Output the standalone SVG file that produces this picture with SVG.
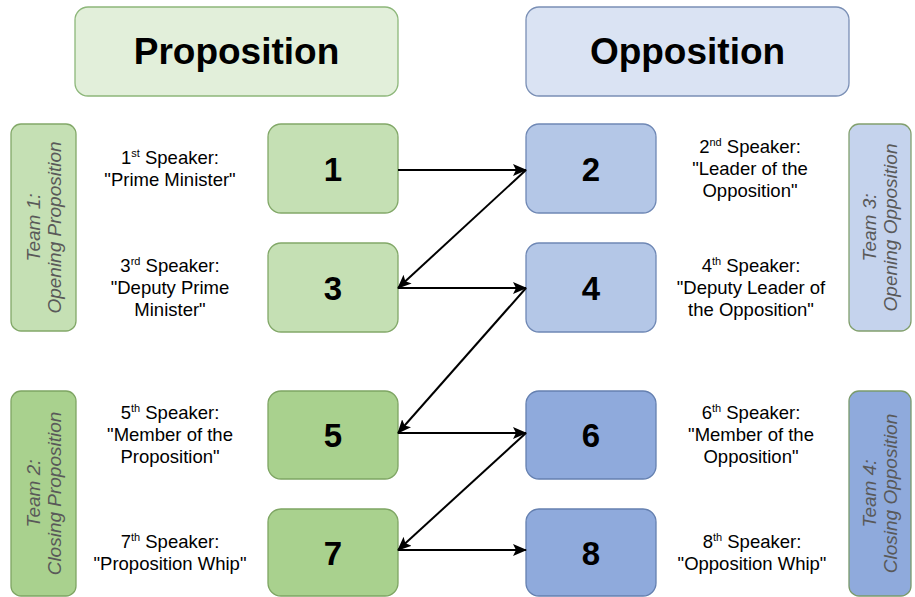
<svg xmlns="http://www.w3.org/2000/svg" width="915" height="597" viewBox="0 0 915 597">
<defs>
<style>
.hdr{font-family:"Liberation Sans",Arial,sans-serif;font-weight:bold;font-size:37px;fill:#000;text-anchor:middle}
.num{font-family:"Liberation Sans",Arial,sans-serif;font-weight:bold;font-size:33px;fill:#000;text-anchor:middle}
.lbl{font-family:"Liberation Sans",Arial,sans-serif;font-size:18.5px;fill:#000;text-anchor:middle}
.team{font-family:"Liberation Sans",Arial,sans-serif;font-style:italic;font-size:19px;fill:#595959;text-anchor:middle}
.sup{font-size:11px}
.g1{fill:#c5e0b4;stroke:#82a868;stroke-width:1.3}
.g2{fill:#a9d18e;stroke:#7ea563;stroke-width:1.3}
.b1{fill:#b4c7e7;stroke:#6f88b5;stroke-width:1.3}
.b2{fill:#8faadc;stroke:#6580b0;stroke-width:1.3}
.conn{stroke:#000;stroke-width:2;fill:none;marker-end:url(#arr)}
</style>
<marker id="arr" markerUnits="userSpaceOnUse" markerWidth="14" markerHeight="12" refX="13" refY="6" orient="auto">
<path d="M0,0 L14,6 L0,12 L3,6 z" fill="#000"/>
</marker>
</defs>
<rect width="915" height="597" fill="#fff"/>

<g id="header-proposition">
<rect x="75" y="7" width="323" height="89" rx="13" fill="#e2efda" stroke="#8db77a" stroke-width="1.3"/>
<text class="hdr" x="236.5" y="64">Proposition</text>
</g>
<g id="header-opposition">
<rect x="526" y="7" width="323" height="89" rx="13" fill="#dae3f3" stroke="#7a8fb5" stroke-width="1.3"/>
<text class="hdr" x="687.5" y="64">Opposition</text>
</g>

<g id="team1">
<rect class="g1" x="11" y="124" width="65" height="207" rx="10"/>
<text class="team" transform="translate(43.5,227.5) rotate(-90)"><tspan x="0" y="-4">Team 1:</tspan><tspan x="0" y="17">Opening Proposition</tspan></text>
</g>
<g id="team2">
<rect class="g2" x="11" y="391" width="65" height="205" rx="10"/>
<text class="team" transform="translate(43.5,493.5) rotate(-90)"><tspan x="0" y="-4">Team 2:</tspan><tspan x="0" y="17">Closing Proposition</tspan></text>
</g>
<g id="team3">
<rect x="849" y="124" width="62" height="207" rx="10" fill="#c5d3ed" stroke="#82a06e" stroke-width="1.3"/>
<text class="team" transform="translate(880,227.5) rotate(-90)"><tspan x="0" y="-4">Team 3:</tspan><tspan x="0" y="17">Opening Opposition</tspan></text>
</g>
<g id="team4">
<rect x="849" y="391" width="62" height="205" rx="10" fill="#8faadc" stroke="#7a9a6c" stroke-width="1.3"/>
<text class="team" transform="translate(880,493.5) rotate(-90)"><tspan x="0" y="-4">Team 4:</tspan><tspan x="0" y="17">Closing Opposition</tspan></text>
</g>

<g id="node1">
<rect class="g1" x="268" y="124" width="130" height="89" rx="13"/>
<text class="num" x="333" y="181">1</text>
<text class="lbl" x="170" y="164">1<tspan class="sup" dy="-7">st</tspan><tspan dy="7"> Speaker:</tspan></text>
<text class="lbl" x="170" y="186">"Prime Minister"</text>
</g>
<g id="node2">
<rect class="b1" x="526" y="124" width="130" height="89" rx="13"/>
<text class="num" x="591" y="181">2</text>
<text class="lbl" x="750" y="153">2<tspan class="sup" dy="-7">nd</tspan><tspan dy="7"> Speaker:</tspan></text>
<text class="lbl" x="750" y="175">"Leader of the</text>
<text class="lbl" x="750" y="197">Opposition"</text>
</g>
<g id="node3">
<rect class="g1" x="268" y="243" width="130" height="89" rx="13"/>
<text class="num" x="333" y="300">3</text>
<text class="lbl" x="170" y="272">3<tspan class="sup" dy="-7">rd</tspan><tspan dy="7"> Speaker:</tspan></text>
<text class="lbl" x="170" y="294">"Deputy Prime</text>
<text class="lbl" x="170" y="316">Minister"</text>
</g>
<g id="node4">
<rect class="b1" x="526" y="243" width="130" height="89" rx="13"/>
<text class="num" x="591" y="300">4</text>
<text class="lbl" x="751" y="272">4<tspan class="sup" dy="-7">th</tspan><tspan dy="7"> Speaker:</tspan></text>
<text class="lbl" x="751" y="294">"Deputy Leader of</text>
<text class="lbl" x="751" y="316">the Opposition"</text>
</g>
<g id="node5">
<rect class="g2" x="268" y="391" width="130" height="88" rx="13"/>
<text class="num" x="333" y="447">5</text>
<text class="lbl" x="170" y="419">5<tspan class="sup" dy="-7">th</tspan><tspan dy="7"> Speaker:</tspan></text>
<text class="lbl" x="170" y="441">"Member of the</text>
<text class="lbl" x="170" y="463">Proposition"</text>
</g>
<g id="node6">
<rect class="b2" x="526" y="391" width="130" height="88" rx="13"/>
<text class="num" x="591" y="447">6</text>
<text class="lbl" x="751" y="419">6<tspan class="sup" dy="-7">th</tspan><tspan dy="7"> Speaker:</tspan></text>
<text class="lbl" x="751" y="441">"Member of the</text>
<text class="lbl" x="751" y="463">Opposition"</text>
</g>
<g id="node7">
<rect class="g2" x="268" y="509" width="130" height="87" rx="13"/>
<text class="num" x="333" y="565">7</text>
<text class="lbl" x="170" y="548">7<tspan class="sup" dy="-7">th</tspan><tspan dy="7"> Speaker:</tspan></text>
<text class="lbl" x="170" y="570">"Proposition Whip"</text>
</g>
<g id="node8">
<rect class="b2" x="526" y="509" width="130" height="87" rx="13"/>
<text class="num" x="591" y="565">8</text>
<text class="lbl" x="752" y="548">8<tspan class="sup" dy="-7">th</tspan><tspan dy="7"> Speaker:</tspan></text>
<text class="lbl" x="752" y="570">"Opposition Whip"</text>
</g>

<g id="connectors">
<line class="conn" x1="398" y1="170" x2="526" y2="170"/>
<line class="conn" x1="526" y1="170" x2="398" y2="288"/>
<line class="conn" x1="398" y1="288" x2="526" y2="288"/>
<line class="conn" x1="526" y1="288" x2="398" y2="433"/>
<line class="conn" x1="398" y1="433" x2="526" y2="433"/>
<line class="conn" x1="526" y1="433" x2="398" y2="550"/>
<line class="conn" x1="398" y1="550" x2="526" y2="550"/>
</g>
</svg>
